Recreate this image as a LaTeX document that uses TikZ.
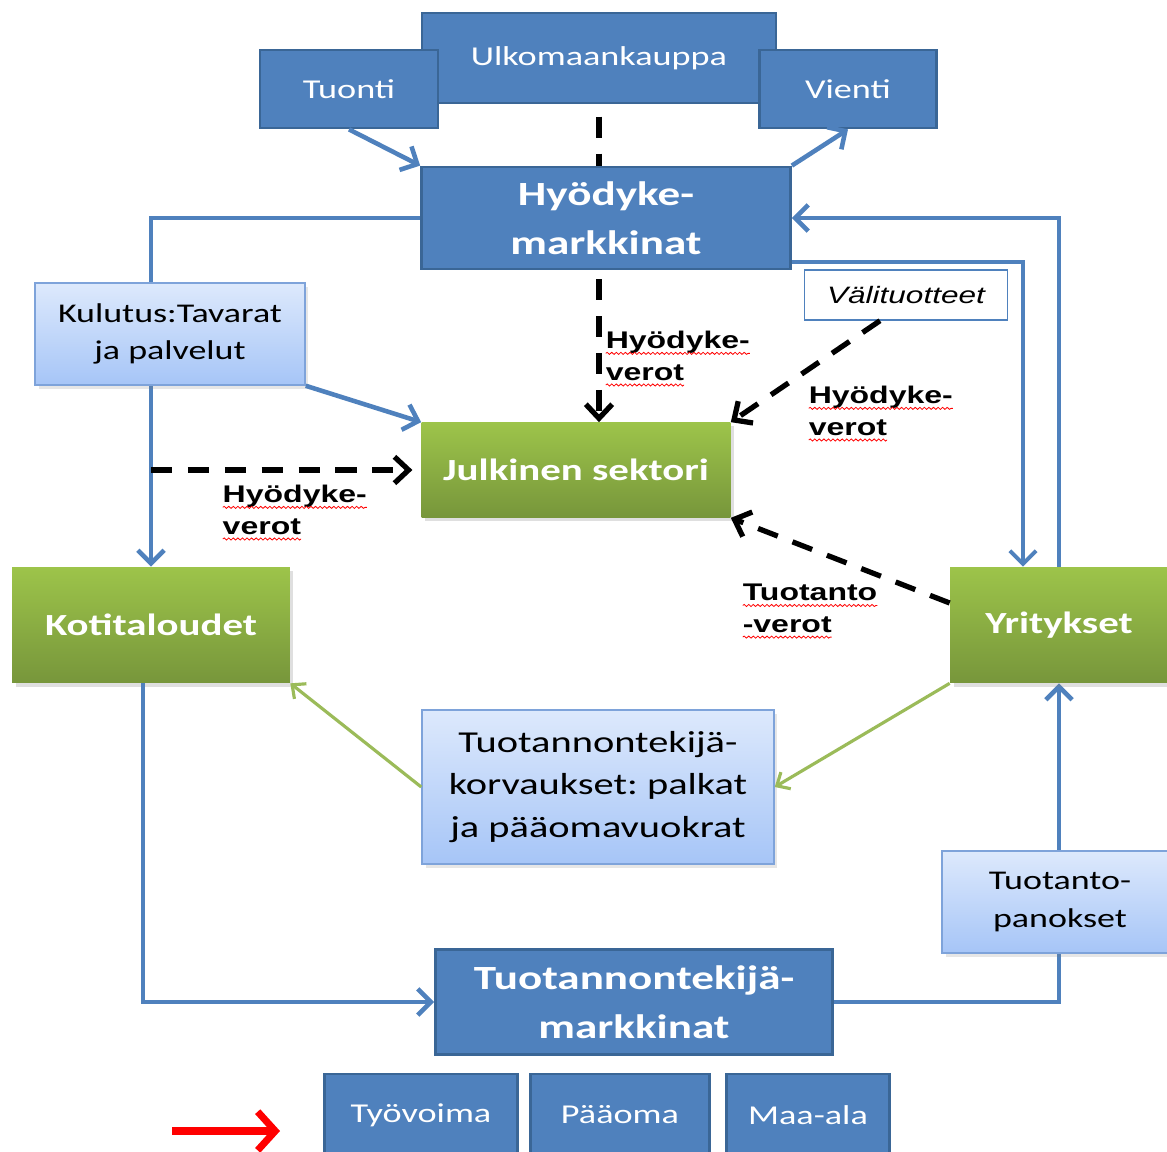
\documentclass[tikz,border=0pt]{standalone}
\usepackage{fontspec}
\setmainfont{Carlito}[FakeStretch=1.33]
\newfontfamily\labelfont{Liberation Sans}[FakeStretch=1.33]
\usetikzlibrary{arrows.meta,shadows,backgrounds,decorations.pathmorphing}
\frenchspacing

\definecolor{blueface}{HTML}{4F81BD}
\definecolor{bluedark}{HTML}{3A6696}
\definecolor{lighttop}{HTML}{DDE9FC}
\definecolor{lightbot}{HTML}{A6C5F7}
\definecolor{lightedge}{HTML}{7EA3DA}
\definecolor{greentop}{HTML}{9DC44A}
\definecolor{greenbot}{HTML}{77963B}
\definecolor{payline}{HTML}{9BBB59}

\tikzset{
  bluebox/.style={draw=bluedark, line width=1.6pt, fill=blueface, text=white,
    align=center, inner sep=0pt, font=\fontsize{15.5}{21}\selectfont},
  bigtext/.style={font=\fontsize{19.3}{27.8}\selectfont\bfseries},
  greenbox/.style={top color=greentop, bottom color=greenbot, text=white, inner sep=0pt,
    font=\fontsize{17.5}{21}\selectfont\bfseries,
    drop shadow={opacity=0.25, shadow xshift=2pt, shadow yshift=-2pt}},
  lightbox/.style={draw=lightedge, line width=0.9pt, top color=lighttop, bottom color=lightbot,
    align=center, inner sep=0pt, font=\fontsize{15.4}{21.3}\selectfont,
    drop shadow={opacity=0.2, shadow xshift=2pt, shadow yshift=-2pt}},
  korvfont/.style={font=\fontsize{17.3}{24.4}\selectfont},
  taxlabel/.style={anchor=north west, align=left, inner sep=0pt,
    font=\labelfont\bfseries\fontsize{13.7}{18}\selectfont},
  spellcheck/.style={red, line width=0.45pt, decorate,
    decoration={snake, amplitude=0.6pt, segment length=2.6pt}},
  flow/.style={draw=blueface, line width=2.6pt, -{Straight Barb[length=7.5pt,width=15pt]}},
  taxline/.style={black, line width=3pt, dash pattern=on 12pt off 9pt},
  taxflow/.style={taxline, -{Straight Barb[length=8pt,width=15pt]}},
  payflow/.style={draw=payline, line width=1.8pt, -{Straight Barb[length=6pt,width=11pt]}},
  pointer/.style={red, line width=4pt, -{Straight Barb[length=10pt,width=22pt]}}
}

\newcommand\wavy[1]{\tikz[baseline=(w.base)]{\node[inner sep=0pt,outer sep=0pt] (w) {#1};
  \draw[spellcheck] ([yshift=-2.6pt]w.base west) -- ([yshift=-2.6pt]w.base east);}}

\begin{document}
\begin{tikzpicture}[x=0.02cm,y=-0.02cm]
\useasboundingbox (0,0) rectangle (1167,1152);
\clip (0,0) rectangle (1167,1152);

% goods market and foreign trade
\node[bluebox, minimum width=7.08cm, minimum height=1.8cm] (ulko) at (599,58) {Ulkomaankauppa};
\node[bluebox, minimum width=3.56cm, minimum height=1.56cm] (tuonti) at (349,89) {Tuonti};
\node[bluebox, minimum width=3.54cm, minimum height=1.56cm] (vienti) at (848,89) {Vienti};
\node[bluebox, bigtext, minimum width=7.38cm, minimum height=2.04cm] (hyod) at (606,218) {Hyödyke-\\markkinat};

% sectors
\node[greenbox, minimum width=6.18cm, minimum height=1.9cm] (julk) at (576,470) {Julkinen sektori};
\node[greenbox, minimum width=5.56cm, minimum height=2.32cm] (koti) at (151,625) {Kotitaloudet};
\node[greenbox, minimum width=4.36cm, minimum height=2.32cm] (yrit) at (1059,625) {Yritykset};

% flows
\node[lightbox, minimum width=5.4cm, minimum height=2.04cm] (kulutus) at (170,334) {Kulutus:Tavarat\\ja palvelut};
\node[lightbox, korvfont, minimum width=7.04cm, minimum height=3.08cm] (korv) at (598,787) {Tuotannontekijä-\\korvaukset: palkat\\ja pääomavuokrat};
\node[lightbox, minimum width=4.72cm, minimum height=2.04cm] (panos) at (1060,902) {Tuotanto-\\panokset};
\node[draw=blueface, line width=0.8pt, fill=white, inner sep=0pt, minimum width=4.06cm, minimum height=1cm,
  font=\labelfont\itshape\fontsize{13.5}{16}\selectfont] (valit) at (906,295) {Välituotteet};

% factor market
\node[bluebox, bigtext, minimum width=7.94cm, minimum height=2.1cm] (tmark) at (634,1002) {Tuotannontekijä-\\markkinat};
\node[bluebox, minimum width=3.86cm, minimum height=1.64cm] (tyovoima) at (421,1115) {Työvoima};
\node[bluebox, minimum width=3.58cm, minimum height=1.64cm] (paaoma) at (620,1115) {Pääoma};
\node[bluebox, minimum width=3.26cm, minimum height=1.64cm] (maaala) at (808,1115) {Maa-ala};

% tax labels
\node[taxlabel] (verohyod) at (605,331) {\wavy{Hyödyke-}\\\wavy{verot}};
\node[taxlabel] (verokulu) at (222,485) {\wavy{Hyödyke-}\\\wavy{verot}};
\node[taxlabel] (verovali) at (808,386) {\wavy{Hyödyke-}\\\wavy{verot}};
\node[taxlabel] (verotuot) at (742,584) {\wavy{Tuotanto}\\\wavy{-verot}};

\begin{pgfonlayer}{background}
\draw[flow] (hyod.west) -| (koti.north);
\draw[flow] (tmark.east) -| (yrit.south);
\end{pgfonlayer}
\draw[flow] (tuonti.south) -- (hyod.north west);
\draw[flow] (hyod.north east) -- (vienti.south);
\draw[flow] (kulutus.south east) -- (julk.north west);
\draw[flow] (yrit.north) |- (hyod.east);
\draw[flow, line width=2.2pt] ([yshift=-0.88cm]hyod.east) -| ([xshift=-0.72cm]yrit.north);
\draw[flow] ([xshift=-0.16cm]koti.south) |- (tmark.west);

% taxes
\draw[taxline, shorten <=7pt] (ulko.south) -- (ulko.south |- hyod.north);
\draw[taxflow, shorten <=5pt] (ulko.south |- hyod.south) -- (ulko.south |- julk.north);
\draw[taxflow, shorten >=5pt] (koti.north |- julk.west) -- (julk.west);
\draw[taxflow] ([xshift=-0.52cm]valit.south) -- (julk.north east);
\draw[taxflow] ([yshift=0.44cm]yrit.west) -- (julk.south east);

% payments
\draw[payflow] (yrit.south west) -- (korv.east);
\draw[payflow] (korv.west) -- (koti.south east);

\coordinate (redtail) at (172,1131);
\coordinate (redhead) at (280,1131);
\draw[pointer] (redtail) -- (redhead);
\end{tikzpicture}
\end{document}
